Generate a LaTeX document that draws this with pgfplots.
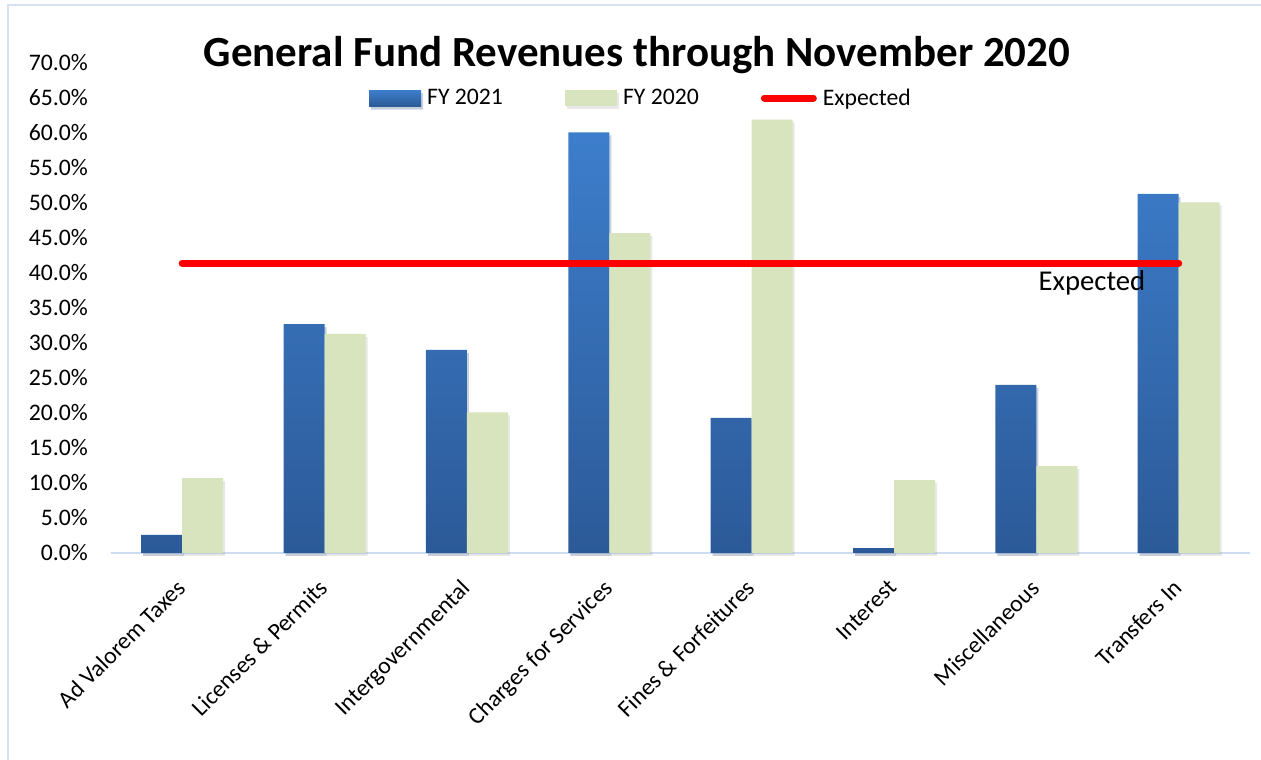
\documentclass[border=0pt]{standalone}
\usepackage{pgfplots}
\pgfplotsset{compat=1.18}
\usetikzlibrary{shadows}
\usepackage{fontspec}
\setmainfont{Carlito}
\definecolor{bluetop}{RGB}{61,126,204}
\definecolor{bluebot}{RGB}{44,90,152}
\definecolor{greenbar}{RGB}{215,228,189}
\definecolor{framec}{RGB}{214,226,240}
\definecolor{axisline}{RGB}{205,220,240}
\begin{document}
\begin{tikzpicture}[x=1pt,y=1pt]
\path[use as bounding box] (0,0) rectangle (1261,760);
\fill[white] (0,0) rectangle (1261,760);
\draw[framec, line width=1.5pt] (8,0) -- (8,755) -- (1261,755);
\node[font=\fontsize{43}{52}\selectfont\bfseries, anchor=base] at (637,693) {General Fund Revenues through November 2020};
\begin{axis}[
  at={(111pt,207pt)}, anchor=south west,
  width=1139pt, height=490pt, scale only axis,
  xmin=-0.5, xmax=7.5, ymin=0, ymax=70,
  axis x line*=bottom, axis y line*=left,
  y axis line style={draw=none},
  x axis line style={axisline, line width=2pt},
  major tick length=0pt,
  xtick={0,...,7},
  xticklabels={Ad Valorem Taxes, Licenses \& Permits, Intergovernmental, Charges for Services, Fines \& Forfeitures, Interest, Miscellaneous, Transfers In},
  ytick={0,5,...,70},
  yticklabels={0.0\%,5.0\%,10.0\%,15.0\%,20.0\%,25.0\%,30.0\%,35.0\%,40.0\%,45.0\%,50.0\%,55.0\%,60.0\%,65.0\%,70.0\%},
  tick label style={font=\fontsize{23.7}{28}\selectfont},
  yticklabel style={anchor=east, inner sep=0pt, xshift=-23pt},
  xticklabel style={yshift=-25pt, xshift=-7pt, rotate=45, anchor=north east, inner sep=0pt},
  legend columns=3,
  legend style={at={(0.2265,0.9285)}, anchor=west, draw=none, fill=none, inner sep=0pt,
    font=\fontsize{23.7}{28}\selectfont,
    nodes={inner sep=0pt},
    /tikz/every odd column/.append style={column sep=6pt},
    /tikz/every even column/.append style={column sep=62pt}},
  legend cell align=left,
  clip=false,
]
\addplot[ybar, bar width=0.288, bar shift=-0.144, draw=none, top color=bluetop, bottom color=bluebot,
  drop shadow={opacity=0.18, shadow xshift=2pt, shadow yshift=-3pt},
  legend image code/.code={\shade[top color=bluetop, bottom color=bluebot] (0pt,-8pt) rectangle (52pt,8pt);}]
  coordinates {(0,2.6) (1,32.7) (2,29.0) (3,60.1) (4,19.3) (5,0.7) (6,24.0) (7,51.3)};
\addlegendentry{FY 2021}
\addplot[ybar, bar width=0.288, bar shift=0.144, draw=none, fill=greenbar,
  drop shadow={opacity=0.18, shadow xshift=2pt, shadow yshift=-3pt},
  legend image code/.code={\fill[greenbar] (0pt,-8pt) rectangle (52pt,8pt);}]
  coordinates {(0,10.7) (1,31.3) (2,20.1) (3,45.7) (4,61.9) (5,10.4) (6,12.4) (7,50.1)};
\addlegendentry{FY 2020}
\addplot[red, line width=7pt, line cap=round,
  legend image code/.code={\draw[red, line width=7pt, line cap=round] (3.5pt,0pt) -- (52.5pt,0pt);}]
  coordinates {(0,41.4) (7,41.4)};
\addlegendentry{Expected}
\node[anchor=base east, font=\fontsize{28.7}{34}\selectfont, xshift=-30pt, yshift=-27pt] at (axis cs:7,41.4) {Expected};
\end{axis}
\end{tikzpicture}
\end{document}
